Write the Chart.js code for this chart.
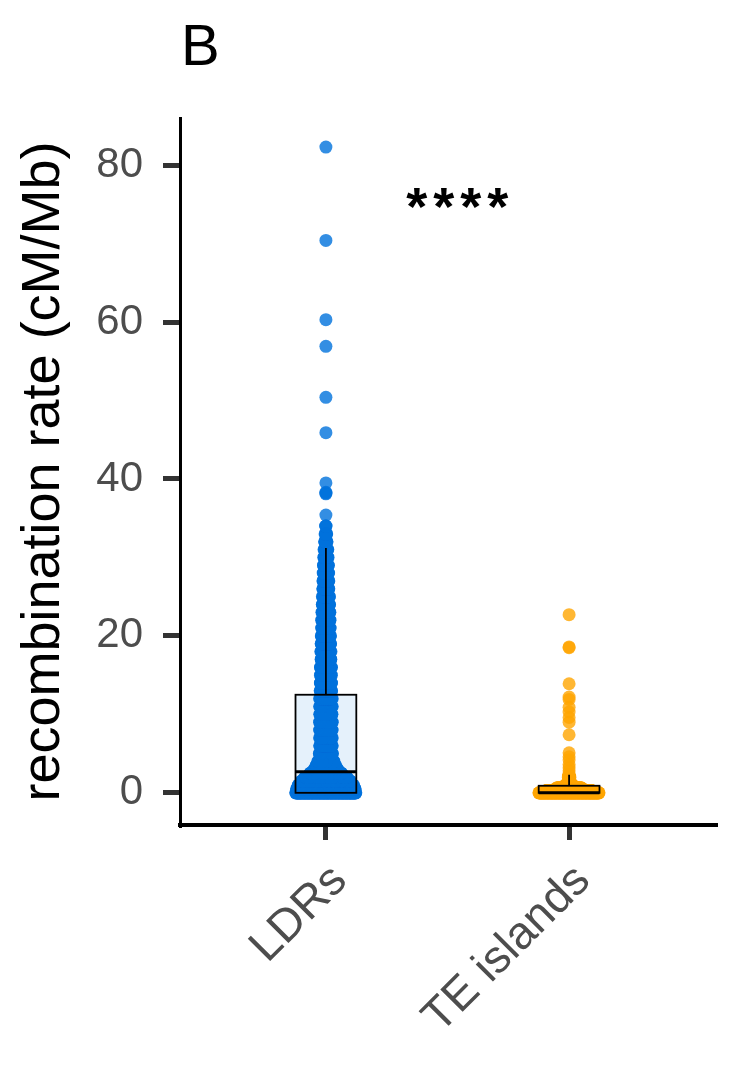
<!DOCTYPE html>
<html>
<head>
<meta charset="utf-8">
<script src="https://cdn.jsdelivr.net/npm/chart.js@4/dist/chart.umd.min.js"></script>
<style>
  html, body { margin: 0; padding: 0; background: #fff; }
  #wrap { width: 729px; height: 1091px; }
</style>
</head>
<body>
<div id="wrap"><canvas id="chart" width="729" height="1091"></canvas></div>
<script>
const groups = ['LDRs', 'TE islands'];
const yTicks = [0, 20, 40, 60, 80];

// LDRs: rate values along the dense column and how many regions sit at each
const ldrLevels = [0, 0.5, 1, 1.5, 2, 2.5, 3, 3.5, 4, 5, 6, 7, 8, 9, 10, 11, 12,
                   13, 14, 15, 16, 17, 18, 19, 20, 21, 22, 23, 24, 25, 26, 27, 28,
                   29, 30, 31, 32, 33, 34];
const ldrCounts = [240, 232, 218, 195, 165, 125, 95, 76, 64, 54, 50, 50, 50, 50, 50, 50, 50,
                   46, 46, 44, 44, 40, 40, 38, 38, 34, 34, 32, 30, 28, 26, 24, 22,
                   20, 18, 15, 11, 7, 3];
const ldrOutliers = [82.3, 70.4, 60.3, 56.9, 50.4, 45.9, 39.5, 38.3, 38.2, 38.1, 35.4];

// TE islands
const teLevels = [0, 0.3, 0.6, 1, 1.3, 1.6, 2, 2.3];
const teCounts = [240, 180, 100, 30, 12, 8, 6, 4];
const teOutliers = [22.7, 18.6, 18.5, 13.9, 12.2, 11.9, 10.9, 10.3, 9.6, 9.0, 7.4,
                    5.1, 4.6, 4.2, 3.6, 3.2, 2.8];

// box summaries (LDRs, TE islands)
const boxQ1 = [0, 0];
const boxMedian = [2.7, 0];
const boxQ3 = [12.5, 0.9];
const whiskerLow = [0, 0];
const whiskerHigh = [31.2, 2.3];

const sigLabel = '****';
const sigPos = [1.54, 74.2];

const FONT = '"Liberation Sans", Arial, Helvetica, sans-serif';
const blue = '0, 114, 220';
const orange = '255, 165, 0';
const halfWidth = 0.125;   // max horizontal spread of a swarm, in x units
const boxHalf = 0.125;

// van der Corput sequence, spreads points evenly like a quasirandom swarm
function vdc(n) {
    let v = 0, d = 1;
    while (n > 0) {
        d *= 2;
        v += (n % 2) / d;
        n = Math.floor(n / 2);
    }
    return v;
}

function swarm(center, levels, counts, outliers) {
    const maxCount = Math.max(...counts);
    const pts = [];
    let k = 0;
    levels.forEach((val, i) => {
        const w = halfWidth * counts[i] / maxCount;
        for (let j = 0; j < counts[i]; j++) {
            k++;
            pts.push({ x: center + (vdc(k) * 2 - 1) * w, y: val });
        }
    });
    outliers.forEach(val => pts.push({ x: center, y: val }));
    return pts;
}

const boxPlugin = {
    id: 'boxes',
    afterDatasetsDraw(chart) {
        const { ctx, scales: { x, y } } = chart;
        const fills = [`rgba(${blue}, 0.1)`, `rgba(${orange}, 0.1)`];
        ctx.save();
        groups.forEach((g, i) => {
            const c = i + 1;
            const xl = x.getPixelForValue(c - boxHalf);
            const xr = x.getPixelForValue(c + boxHalf);
            const xc = x.getPixelForValue(c);
            const yq1 = y.getPixelForValue(boxQ1[i]);
            const yq3 = y.getPixelForValue(boxQ3[i]);
            const ymed = y.getPixelForValue(boxMedian[i]);
            ctx.fillStyle = fills[i];
            ctx.fillRect(xl, yq3, xr - xl, yq1 - yq3);
            ctx.strokeStyle = '#000';
            ctx.lineWidth = 1.8;
            // whiskers
            ctx.beginPath();
            ctx.moveTo(xc, yq3);
            ctx.lineTo(xc, y.getPixelForValue(whiskerHigh[i]));
            ctx.moveTo(xc, yq1);
            ctx.lineTo(xc, y.getPixelForValue(whiskerLow[i]));
            ctx.stroke();
            ctx.strokeRect(xl, yq3, xr - xl, yq1 - yq3);
            // median
            ctx.lineWidth = 3;
            ctx.beginPath();
            ctx.moveTo(xl, ymed);
            ctx.lineTo(xr, ymed);
            ctx.stroke();
        });
        // significance stars
        ctx.fillStyle = '#000';
        ctx.font = `bold 54px ${FONT}`;
        ctx.letterSpacing = '6px';
        ctx.textAlign = 'center';
        ctx.textBaseline = 'middle';
        ctx.fillText(sigLabel, x.getPixelForValue(sigPos[0]) + 3, y.getPixelForValue(sigPos[1]));
        ctx.letterSpacing = '0px';
        // panel tag
        ctx.font = `58px ${FONT}`;
        ctx.textAlign = 'left';
        ctx.textBaseline = 'alphabetic';
        ctx.fillText('B', 181, 65);
        ctx.restore();
    }
};

const ctx = document.getElementById('chart').getContext('2d');
new Chart(ctx, {
    type: 'scatter',
    data: {
        datasets: [
            {
                label: groups[0],
                data: swarm(1, ldrLevels, ldrCounts, ldrOutliers),
                backgroundColor: `rgba(${blue}, 0.8)`,
                borderWidth: 0,
                pointRadius: 6.5
            },
            {
                label: groups[1],
                data: swarm(2, teLevels, teCounts, teOutliers),
                backgroundColor: `rgba(${orange}, 0.8)`,
                borderWidth: 0,
                pointRadius: 6.5
            }
        ]
    },
    options: {
        responsive: false,
        animation: false,
        layout: { padding: { top: 118, right: 14, left: 12, bottom: 0 } },
        plugins: {
            legend: { display: false },
            tooltip: { enabled: false }
        },
        scales: {
            x: {
                type: 'linear',
                min: 0.4,
                max: 2.6,
                afterBuildTicks: s => { s.ticks = groups.map((g, i) => ({ value: i + 1 })); },
                afterFit: s => { s.height = 1091 - 825; },
                ticks: {
                    callback: v => groups[v - 1],
                    color: '#4D4D4D',
                    font: { family: FONT, size: 46 },
                    minRotation: 45,
                    maxRotation: 45,
                    padding: 14,
                    labelOffset: 14
                },
                grid: {
                    drawOnChartArea: false, tickLength: 15,
                    color: '#333', lineWidth: 5, tickColor: '#333', tickWidth: 5
                },
                border: { color: '#000', width: 4 }
            },
            y: {
                min: -4.1,
                max: 86,
                afterBuildTicks: s => { s.ticks = yTicks.map(v => ({ value: v })); },
                afterFit: s => { s.width = 180 - 12; },
                ticks: {
                    color: '#4D4D4D',
                    font: { family: FONT, size: 42 },
                    padding: 20
                },
                grid: {
                    drawOnChartArea: false, tickLength: 17,
                    color: '#333', lineWidth: 5, tickColor: '#333', tickWidth: 5
                },
                border: { color: '#000', width: 3 },
                title: {
                    display: true,
                    text: 'recombination rate (cM/Mb)',
                    color: '#000',
                    font: { family: FONT, size: 54 },
                    padding: 0
                }
            }
        }
    },
    plugins: [boxPlugin]
});
</script>
</body>
</html>
